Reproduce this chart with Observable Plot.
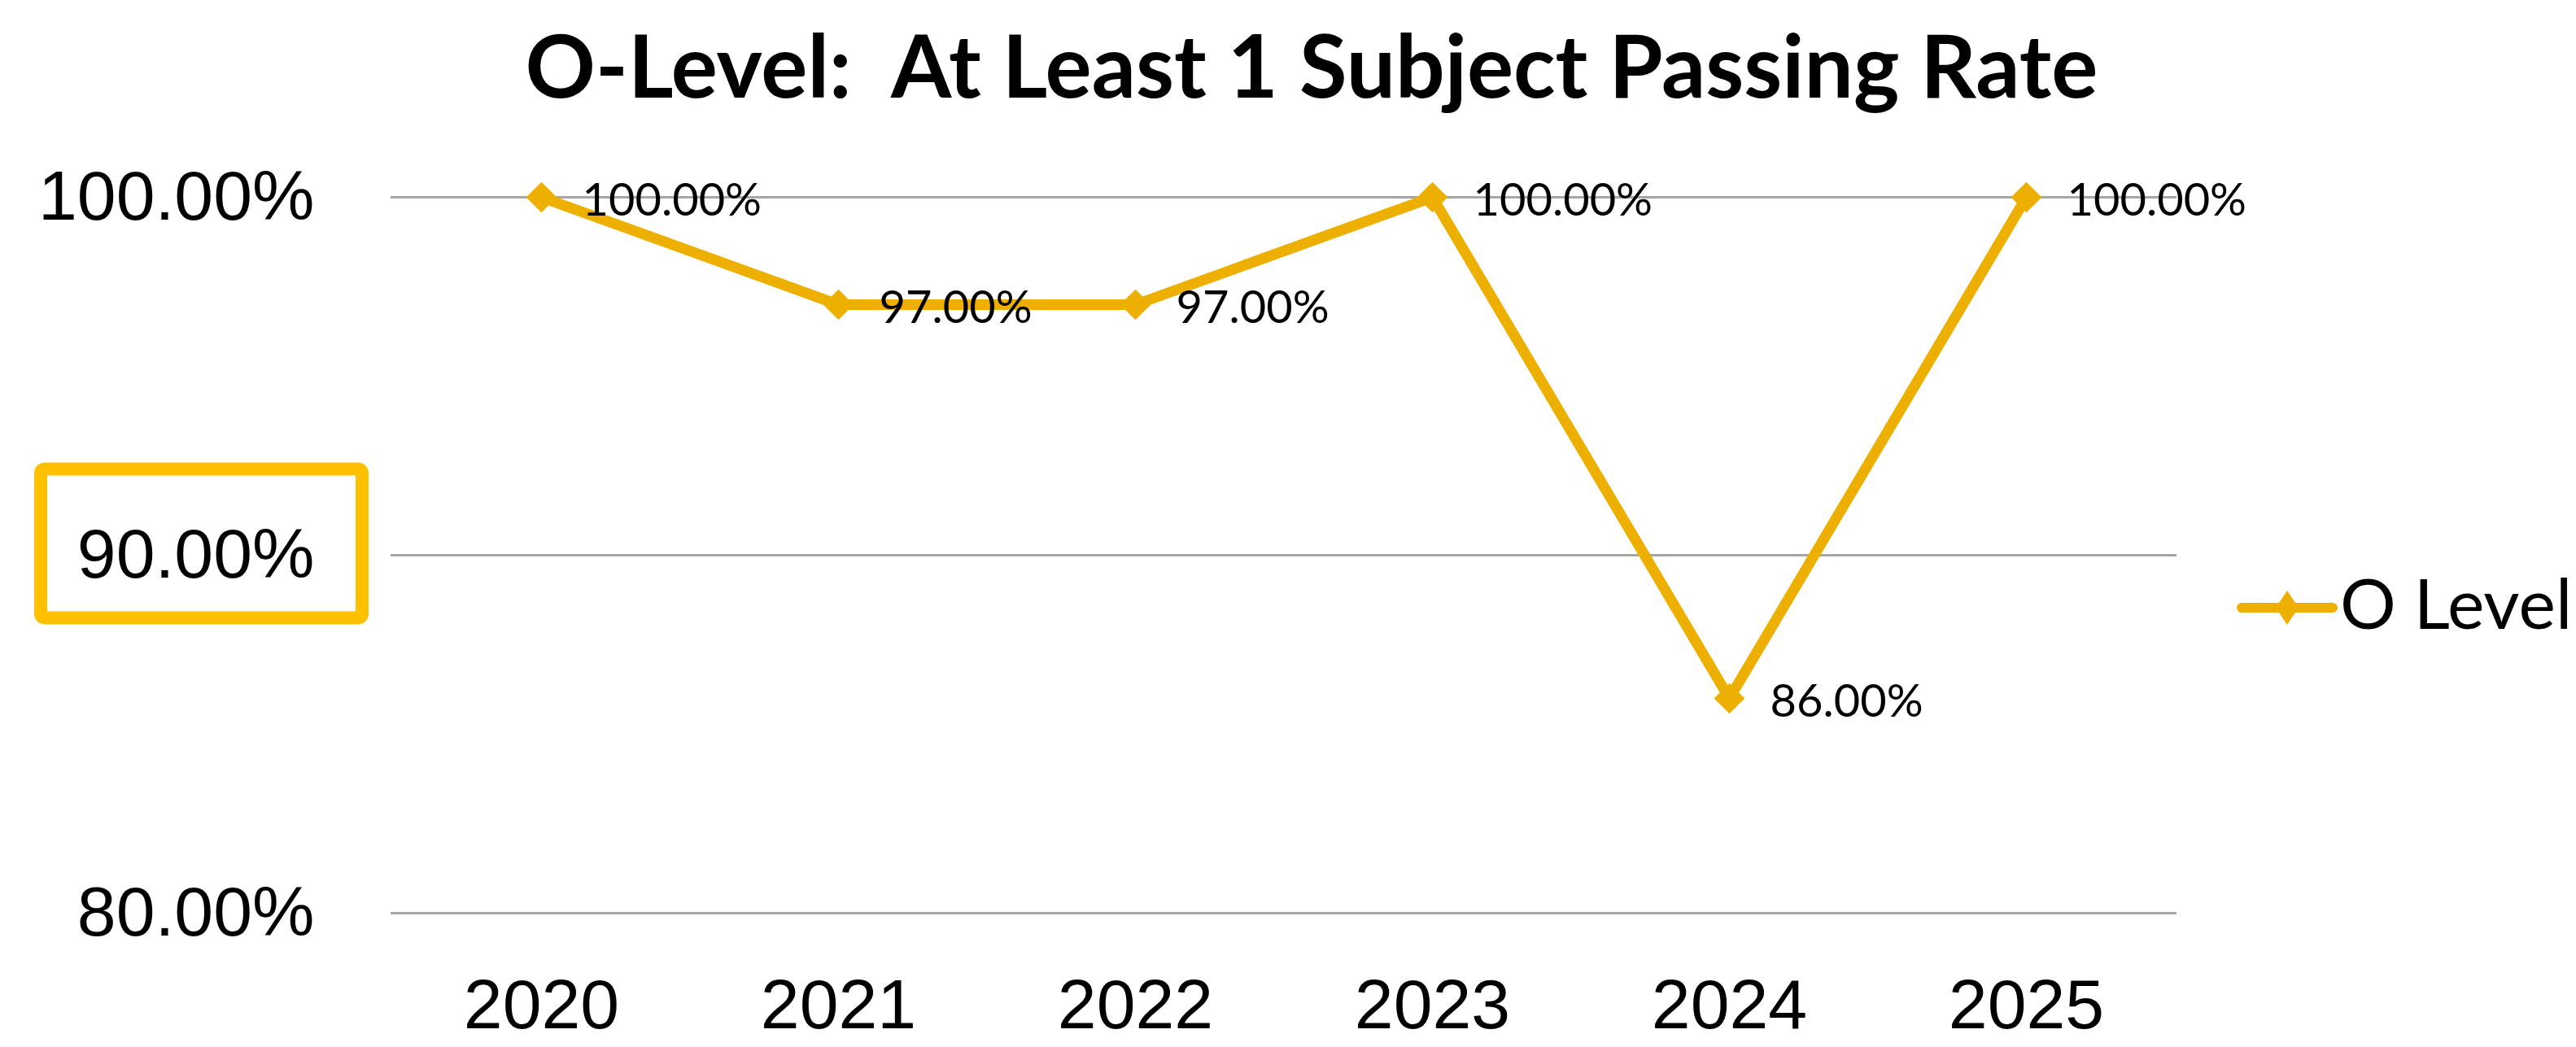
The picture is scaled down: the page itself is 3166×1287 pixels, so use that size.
<!DOCTYPE html>
<html>
<head>
<meta charset="utf-8">
<script src="https://cdn.jsdelivr.net/npm/d3@7"></script>
<script src="https://cdn.jsdelivr.net/npm/@observablehq/plot@0.6"></script>
<style>
  html, body { margin: 0; padding: 0; background: #ffffff; }
  #title {
    width: 3166px; height: 157px; line-height: 157px; box-sizing: border-box;
    padding-left: 58px; text-align: center; white-space: pre;
    font-family: Lato, "Open Sans", sans-serif; font-weight: 700; font-size: 107px; color: #000;
  }
  #chart svg { display: block; }
</style>
</head>
<body>
<div id="title"></div>
<div id="chart"></div>
<script>
// ---- data ----
const titleText = "O-Level:  At Least 1 Subject Passing Rate";
const seriesName = "O Level";
const years = ["2020", "2021", "2022", "2023", "2024", "2025"];
const rates = [1.00, 0.97, 0.97, 1.00, 0.86, 1.00];
const yTicks = [0.80, 0.90, 1.00];
const highlightTick = 0.90;

// ---- styles ----
const lineColor = "#EEB000";
const boxColor = "#FFC000";
const gridColor = "#A6A6A6";
const axisFont = "'Liberation Sans', Arial, sans-serif";
const labelFont = "Lato, 'Open Sans', sans-serif";
const fmt = d3.format(".2%");

document.getElementById("title").textContent = titleText;

const data = years.map((year, i) => ({year, rate: rates[i]}));

const chart = Plot.plot({
  width: 3166,
  height: 1130,
  marginLeft: 480,
  marginRight: 491,
  marginTop: 85,
  marginBottom: 165,
  style: {background: "#ffffff", color: "#000000"},
  x: {type: "point", domain: years, padding: 0.5},
  y: {domain: [0.8, 1.0]},
  marks: [
    Plot.ruleY(yTicks, {stroke: gridColor, strokeWidth: 3}),
    Plot.axisY({ticks: yTicks, tickFormat: fmt, tickSize: 0, tickPadding: 94,
      fontSize: 86, fontFamily: axisFont, label: null}),
    Plot.axisX({tickSize: 0, tickPadding: 80, fontSize: 86, fontFamily: axisFont, label: null}),
    Plot.line(data, {x: "year", y: "rate", stroke: lineColor, strokeWidth: 13, strokeLinejoin: "round"}),
    Plot.dot(data, {x: "year", y: "rate", symbol: "diamond2", r: 17, fill: lineColor, stroke: null}),
    Plot.text(data, {x: "year", y: "rate", text: d => fmt(d.rate), textAnchor: "start",
      dx: 50, dy: 5, fontSize: 56, fontFamily: labelFont, fill: "#000"})
  ]
});

document.getElementById("chart").appendChild(chart);

// highlight box around the 90.00% tick label
const svg = d3.select(chart);
const yS = chart.scale("y");
const yc = yS.apply(highlightTick) - 14;
svg.append("rect")
  .attr("x", 50).attr("y", yc - 91.5)
  .attr("width", 395).attr("height", 183)
  .attr("rx", 5)
  .attr("fill", "none").attr("stroke", boxColor).attr("stroke-width", 16);

// legend
const lg = svg.append("g").attr("transform", "translate(2811,590)");
lg.append("line").attr("x1", -56).attr("x2", 56).attr("y1", 0).attr("y2", 0)
  .attr("stroke", lineColor).attr("stroke-width", 12).attr("stroke-linecap", "round");
lg.append("path").attr("d", "M0,-21L14,0L0,21L-14,0Z").attr("fill", lineColor);
lg.append("text").attr("x", 65).attr("y", 26).attr("text-anchor", "start")
  .attr("font-family", labelFont).attr("font-size", 86).attr("fill", "#000")
  .text(seriesName);
</script>
</body>
</html>
